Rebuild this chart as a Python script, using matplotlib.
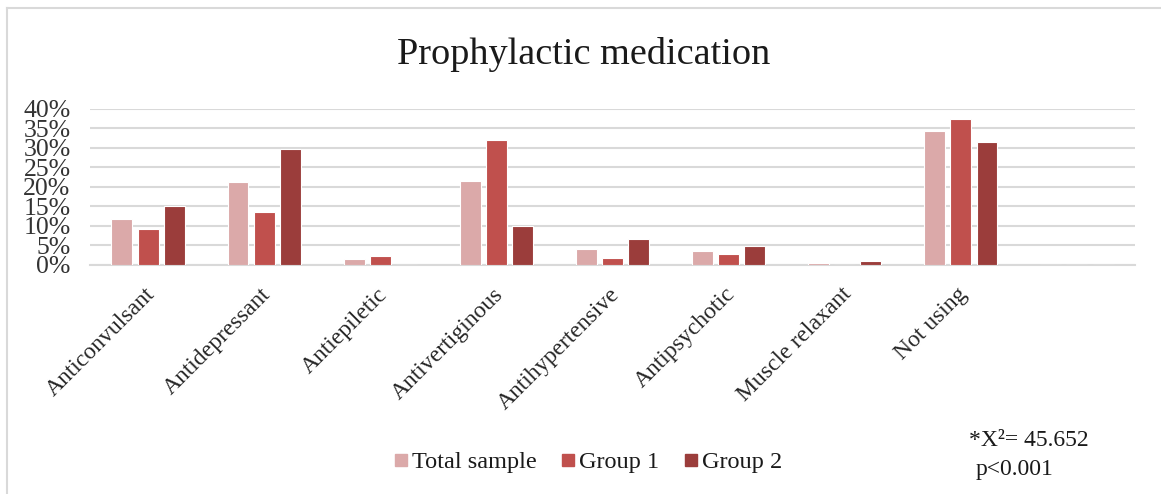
import matplotlib
matplotlib.use("Agg")
import matplotlib.pyplot as plt
import matplotlib.transforms as mtransforms
import numpy as np
from matplotlib.lines import Line2D

categories = ["Anticonvulsant", "Antidepressant", "Antiepiletic", "Antivertiginous",
              "Antihypertensive", "Antipsychotic", "Muscle relaxant", "Not using", ""]
total_sample = [11.6, 21.1, 1.3, 21.6, 3.9, 3.5, 0.5, 34.4, 0]
group1 = [9.1, 13.4, 2.2, 31.9, 1.8, 2.6, 0.0, 37.4, 0]
group2 = [15.1, 29.8, 0.0, 9.9, 6.5, 4.8, 0.8, 31.4, 0]
series_names = ["Total sample", "Group 1", "Group 2"]
colors = ["#dba9a9", "#c0504d", "#9b3d3b"]
yticks = [0, 5, 10, 15, 20, 25, 30, 35, 40]

plt.rcParams['font.family'] = ['Liberation Serif', 'DejaVu Serif']

fig = plt.figure(figsize=(11.61, 4.94), dpi=100)
ax = fig.add_axes([90/1161, 1-264.5/494, (1135-90)/1161, (264.5-109)/494])

x = np.arange(len(categories)) + 0.5
w = 0.18
off = 0.225
for i, (vals, name, c) in enumerate(zip([total_sample, group1, group2], series_names, colors)):
    ax.bar(x + (i-1)*off, vals, width=w, color=c, edgecolor='white', linewidth=0.8,
           label=name, zorder=3)

ax.set_xlim(0, len(categories))
ax.set_ylim(0, 40)
ax.set_yticks(yticks)
ax.set_yticklabels([f"{v}%" for v in yticks], fontsize=18.5, color='#333333')
ax.yaxis.grid(True, color='#d9d9d9', linewidth=1.5, zorder=0)
ax.set_axisbelow(True)
for s in ['top', 'right', 'left']:
    ax.spines[s].set_visible(False)
ax.spines['bottom'].set_color('#d9d9d9')
ax.spines['bottom'].set_linewidth(1.5)
ax.tick_params(axis='y', length=0, pad=14)
ax.tick_params(axis='x', length=0, pad=14)
ax.set_xticks(x)
ax.set_xticklabels(categories, rotation=45, ha='right', va='top', rotation_mode='anchor',
                   fontsize=17, color='#262626')
shift = mtransforms.ScaledTranslation(-4/100, 0, fig.dpi_scale_trans)
for lbl in ax.get_xticklabels():
    lbl.set_transform(lbl.get_transform() + shift)

fig.text(584/1161, 1-55/494, "Prophylactic medication", ha='center', va='center',
         fontsize=27.5, color='#1a1a1a')

handles = [Line2D([0], [0], marker='s', color='none', markerfacecolor=c, markeredgecolor=c,
                  markersize=9) for c in colors]
fig.legend(handles, series_names, loc='center', bbox_to_anchor=(588/1161, 1-462/494),
           ncol=3, frameon=False, fontsize=17.5, handlelength=0.6, handletextpad=0.15,
           columnspacing=1.0, labelcolor='#1a1a1a')

fig.text(969/1161, 1-440/494, "*X²= 45.652", ha='left', va='center', fontsize=17,
         color='#1a1a1a')
fig.text(976/1161, 1-469/494, "p<0.001", ha='left', va='center', fontsize=17,
         color='#1a1a1a')

# chart border
fig.add_artist(Line2D([7/1161, 7/1161], [0, 1-8/494], transform=fig.transFigure,
                      color='#d9d9d9', linewidth=1.5))
fig.add_artist(Line2D([7/1161, 1], [1-8/494, 1-8/494], transform=fig.transFigure,
                      color='#d9d9d9', linewidth=1.5))

fig.savefig("out.png", dpi=100, facecolor='white')
